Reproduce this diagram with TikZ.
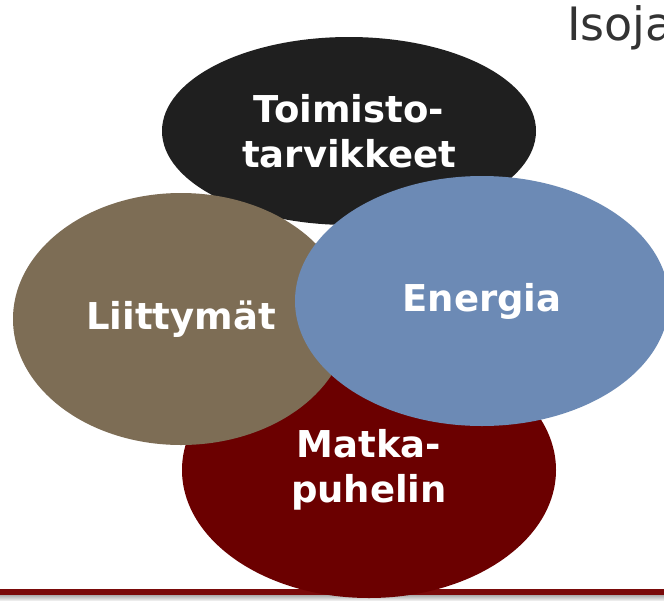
\documentclass[tikz,border=0pt]{standalone}
\usepackage{fontspec}
\setmainfont{DejaVu Sans}
\usetikzlibrary{shapes.geometric}

\definecolor{toimcol}{HTML}{1F1F1F}
\definecolor{liitcol}{HTML}{7D6D55}
\definecolor{enercol}{HTML}{6C8AB5}
\definecolor{matkcol}{HTML}{6B0000}
\definecolor{stripecol}{HTML}{7A0A0A}
\definecolor{titlecol}{HTML}{333333}

\begin{document}
\begin{tikzpicture}[x=1pt, y=-1pt,
  bubble/.style={ellipse, inner sep=0pt, text=white, align=center,
    font=\bfseries\fontsize{37}{45}\selectfont}]
  \clip (0,0) rectangle (664,600);
  \fill[white] (0,0) rectangle (664,600);
  \node[anchor=base west, inner sep=0pt, text=titlecol,
    font=\fontsize{46}{50}\selectfont] (title) at (567,40) {Isoja};
  % bottom stripe
  \fill[stripecol] (0,589) rectangle (664,595);
  \shade[top color=gray!65, bottom color=gray!15] (0,595) rectangle (664,600);
  % the four bubbles
  \node[bubble, fill=toimcol, minimum width=374pt, minimum height=188pt] (toim) at (349,131) {Toimisto-\\tarvikkeet};
  \node[bubble, fill=matkcol, minimum width=374pt, minimum height=256pt] (matk) at (369,470) {Matka-\\puhelin};
  \node[bubble, fill=liitcol, minimum width=336pt, minimum height=252pt] (liit) at (181,319) {Liittymät};
  \node[bubble, fill=enercol, minimum width=374pt, minimum height=250pt] (ener) at (482,301) {Energia};
\end{tikzpicture}
\end{document}
